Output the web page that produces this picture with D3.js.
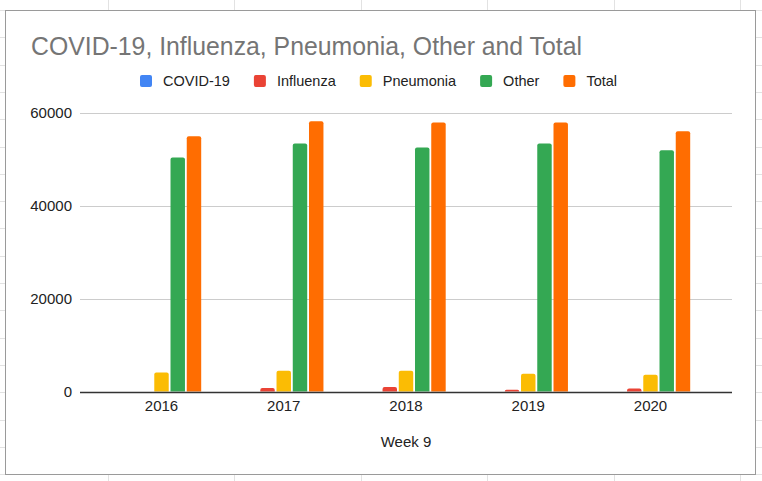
<!DOCTYPE html>
<html>
<head>
<meta charset="utf-8">
<script src="https://cdn.jsdelivr.net/npm/d3@7"></script>
<style>
  html, body { margin: 0; padding: 0; background: #fff; }
  svg { display: block; font-family: "Liberation Sans", Arial, sans-serif; }
</style>
</head>
<body>
<svg id="chart" width="762" height="481"></svg>
<script>
// ---- Data ----
const years = ["2016", "2017", "2018", "2019", "2020"];
const seriesNames = ["COVID-19", "Influenza", "Pneumonia", "Other", "Total"];
const covid     = [0, 0, 0, 0, 0];
const influenza = [0, 730, 950, 370, 650];
const pneumonia = [4090, 4450, 4450, 3800, 3590];
const other     = [50400, 53420, 52560, 53420, 51980];
const total     = [55000, 58220, 57940, 57940, 56070];
const yTicks = [0, 20000, 40000, 60000];
const colors = ["#4285F4", "#EA4335", "#FBBC04", "#34A853", "#FF6D01"];
const titleText = "COVID-19, Influenza, Pneumonia, Other and Total";
const xAxisTitle = "Week 9";

const seriesValues = [covid, influenza, pneumonia, other, total];

const W = 762, H = 481;
const svg = d3.select("#chart");

// ---- Spreadsheet background grid ----
const bg = svg.append("g");
bg.append("rect").attr("width", W).attr("height", H).attr("fill", "#ffffff");
const colStep = 126.4, rowStep = 27.3;
d3.range(-1, 7).forEach(i => {
  const x = Math.round(108 + i * colStep) + 0.5;
  bg.append("line").attr("x1", x).attr("x2", x).attr("y1", 0).attr("y2", H)
    .attr("stroke", "#e2e2e2").attr("stroke-width", 1);
});
d3.range(-1, 18).forEach(i => {
  const y = Math.round(10 + i * rowStep) + 0.5;
  bg.append("line").attr("x1", 0).attr("x2", W).attr("y1", y).attr("y2", y)
    .attr("stroke", "#e2e2e2").attr("stroke-width", 1);
});

// ---- Chart frame ----
svg.append("rect")
  .attr("x", 5.5).attr("y", 10.5).attr("width", 750).attr("height", 464)
  .attr("fill", "#ffffff").attr("stroke", "#9a9a9a").attr("stroke-width", 1);

// ---- Title ----
svg.append("text")
  .attr("x", 31).attr("y", 54.5)
  .attr("font-size", 25)
  .attr("fill", "#757575")
  .attr("textLength", 551).attr("lengthAdjust", "spacingAndGlyphs")
  .text(titleText);

// ---- Scales ----
const plotLeft = 80, plotRight = 732;
const x0 = d3.scaleBand().domain(years).range([plotLeft, plotRight])
  .paddingInner(0).paddingOuter(0.1667);
const x1 = d3.scaleBand().domain(seriesNames).range([-39.7, 39.7])
  .paddingInner(0.11).paddingOuter(0);
const y = d3.scaleLinear().domain([0, 60000]).range([391.5, 113]);

// ---- Gridlines ----
const grid = svg.append("g");
grid.selectAll("line").data(yTicks.filter(t => t !== 0)).join("line")
  .attr("x1", plotLeft).attr("x2", plotRight)
  .attr("y1", d => Math.round(y(d)) + 0.5).attr("y2", d => Math.round(y(d)) + 0.5)
  .attr("stroke", "#cccccc").attr("stroke-width", 1);

// ---- Y axis labels ----
const yAxis = d3.axisLeft(y).tickValues(yTicks).tickSize(0).tickPadding(0)
  .tickFormat(d3.format("d"));
const yg = svg.append("g").attr("transform", `translate(72,0)`).call(yAxis);
yg.select(".domain").remove();
yg.selectAll("text").attr("font-size", 15).attr("fill", "#222")
  .attr("font-family", "'Liberation Sans', Arial, sans-serif");

// ---- Bars ----
function topRounded(x, yTop, w, h, r) {
  if (h <= 0) return "";
  const rr = Math.min(r, h, w / 2);
  return `M${x},${yTop + h}V${yTop + rr}Q${x},${yTop} ${x + rr},${yTop}` +
         `H${x + w - rr}Q${x + w},${yTop} ${x + w},${yTop + rr}V${yTop + h}Z`;
}
const groups = svg.append("g").selectAll("g").data(years).join("g")
  .attr("transform", d => `translate(${x0(d) + x0.bandwidth() / 2},0)`);
groups.selectAll("path")
  .data((yr, i) => seriesNames.map((s, j) => ({ s, j, v: seriesValues[j][i] })))
  .join("path")
  .attr("d", d => topRounded(x1(d.s), y(d.v), x1.bandwidth(), y(0) - y(d.v), 2))
  .attr("fill", d => colors[d.j]);

// ---- Baseline ----
svg.append("line")
  .attr("x1", plotLeft).attr("x2", plotRight)
  .attr("y1", Math.round(y(0)) + 0.5).attr("y2", Math.round(y(0)) + 0.5)
  .attr("stroke", "#333333").attr("stroke-width", 1.3);

// ---- X axis labels ----
const xAxis = d3.axisBottom(x0).tickSize(0).tickPadding(0);
const xg = svg.append("g").attr("transform", `translate(0,${y(0) + 9})`).call(xAxis);
xg.select(".domain").remove();
xg.selectAll("text").attr("font-size", 15).attr("fill", "#222")
  .attr("font-family", "'Liberation Sans', Arial, sans-serif");

// ---- X axis title ----
svg.append("text")
  .attr("x", (plotLeft + plotRight) / 2).attr("y", 447)
  .attr("text-anchor", "middle").attr("font-size", 15).attr("fill", "#222")
  .text(xAxisTitle);

// ---- Legend ----
const legend = svg.append("g").attr("transform", "translate(0,81)");
let lx = 140;
seriesNames.forEach((s, i) => {
  const item = legend.append("g").attr("transform", `translate(${lx},0)`);
  item.append("rect").attr("x", 0).attr("y", -6).attr("width", 12).attr("height", 12)
    .attr("rx", 2).attr("fill", colors[i]);
  const t = item.append("text").attr("x", 23).attr("y", 5)
    .attr("font-size", 14.5).attr("fill", "#222").text(s);
  const tw = t.node().getComputedTextLength();
  lx += 23 + tw + 24;
});
</script>
</body>
</html>
